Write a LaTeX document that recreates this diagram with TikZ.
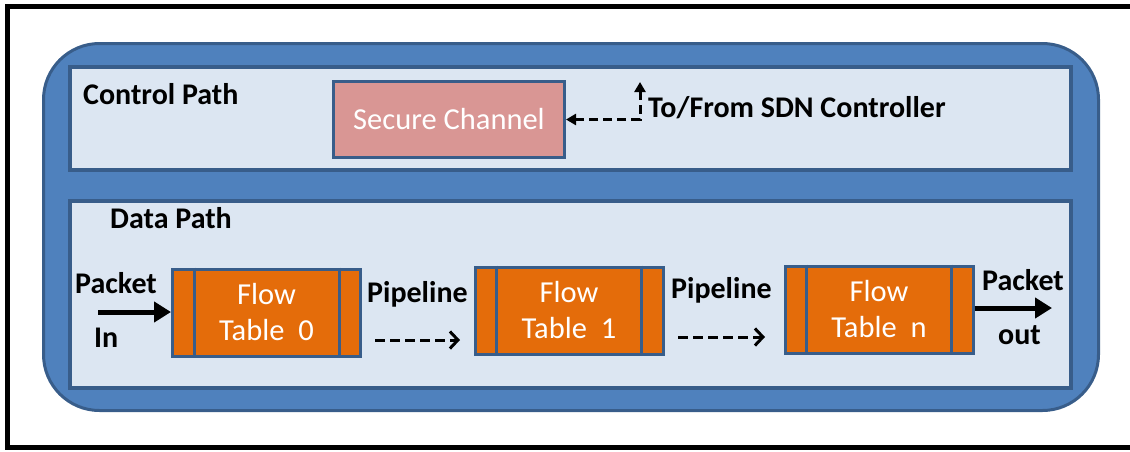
\documentclass[tikz,border=0pt]{standalone}
\usepackage{fontspec}
\setmainfont{Carlito}
\usetikzlibrary{arrows.meta}
\definecolor{blueF}{HTML}{4F81BD}
\definecolor{blueD}{HTML}{385D8A}
\definecolor{paleB}{HTML}{DCE6F2}
\definecolor{pinkF}{HTML}{D99694}
\definecolor{orangeF}{HTML}{E46C0A}
\begin{document}
\begin{tikzpicture}[x=1pt,y=-1pt,
  lbl/.style={inner sep=0pt, font=\fontsize{30}{36}\selectfont\bfseries, anchor=base west},
  panel/.style={draw=blueD, line width=4pt, fill=paleB, inner sep=0pt},
  ftbox/.style={draw=blueD, line width=3pt, fill=orangeF, minimum width=188pt, minimum height=87pt,
    inner sep=0pt, text=white, align=center, font=\fontsize{30.5}{36}\selectfont},
  divider/.style={draw=blueD, line width=3pt},
  pktarrow/.style={line width=5pt, -{Triangle[length=17pt,width=20pt]}},
  pipearrow/.style={line width=3pt, dash pattern=on 10pt off 5pt, -{Straight Barb[length=8pt,width=17pt,line width=3pt]}},
  ctrlarrow/.style={line width=3pt, dash pattern=on 9pt off 5pt, {Triangle[length=10pt,width=11pt]}-{Triangle[length=10pt,width=11pt]}}
]
\useasboundingbox (0,0) rectangle (1130,451);
\clip (0,0) rectangle (1130,451);
% outer frame
\draw[line width=5pt] (7.5,6.5) rectangle (1150,447);
% switch body
\draw[fill=blueF, draw=blueD, line width=3pt, rounded corners=56pt] (43.5,43.5) rectangle (1098.5,410.5);
% panels
\node[panel, minimum width=1001pt, minimum height=103pt] (ctrl) at (570.5,118.5) {};
\node[panel, minimum width=1001pt, minimum height=187pt] (data) at (570.5,294.5) {};
\node[lbl] (ctrllbl) at (83,104) {Control Path};
\node[lbl] (datalbl) at (110,228) {Data Path};
% secure channel
\node[draw=blueD, line width=3pt, fill=pinkF, minimum width=231pt, minimum height=76pt, inner sep=0pt,
  text=white, font=\fontsize{30.5}{36}\selectfont] (sc) at (449,119.5) {Secure Channel};
\coordinate (sdn) at (640,82);
\draw[ctrlarrow] (sdn) |- (sc.east);
\node[lbl] (sdnlbl) at (648,117) {To/From SDN Controller};
% flow tables
\node[ftbox] (ft0) at (266.5,312.5) {Flow\\Table~~0};
\node[ftbox] (ft1) at (569,310.5) {Flow\\Table~~1};
\node[ftbox] (ftn) at (879,309.5) {Flow\\Table~~n};
\foreach \t in {ft0,ft1,ftn}{
  \draw[divider] ([xshift=23pt]\t.north west) -- ([xshift=23pt]\t.south west);
  \draw[divider] ([xshift=-23pt]\t.north east) -- ([xshift=-23pt]\t.south east);
}
% packet in
\coordinate (pin) at (98,312);
\draw[pktarrow] (pin) -- (pin -| ft0.west);
\node[lbl] (pinlbl1) at (75,293) {Packet};
\node[lbl] (pinlbl2) at (94,347) {In};
% pipelines
\node[lbl] (pipe1) at (367,302) {Pipeline};
\coordinate (p1a) at (375,340);
\coordinate (p1b) at (460,340);
\draw[pipearrow] (p1a) -- (p1b);
\node[lbl] (pipe2) at (671,298) {Pipeline};
\coordinate (p2a) at (678,337);
\coordinate (p2b) at (765,337);
\draw[pipearrow] (p2a) -- (p2b);
% packet out
\coordinate (pout) at (1052,308);
\draw[pktarrow] (pout -| ftn.east) -- (pout);
\node[lbl] (poutlbl1) at (982,290) {Packet};
\node[lbl] (poutlbl2) at (998,344) {out};
\end{tikzpicture}
\end{document}
